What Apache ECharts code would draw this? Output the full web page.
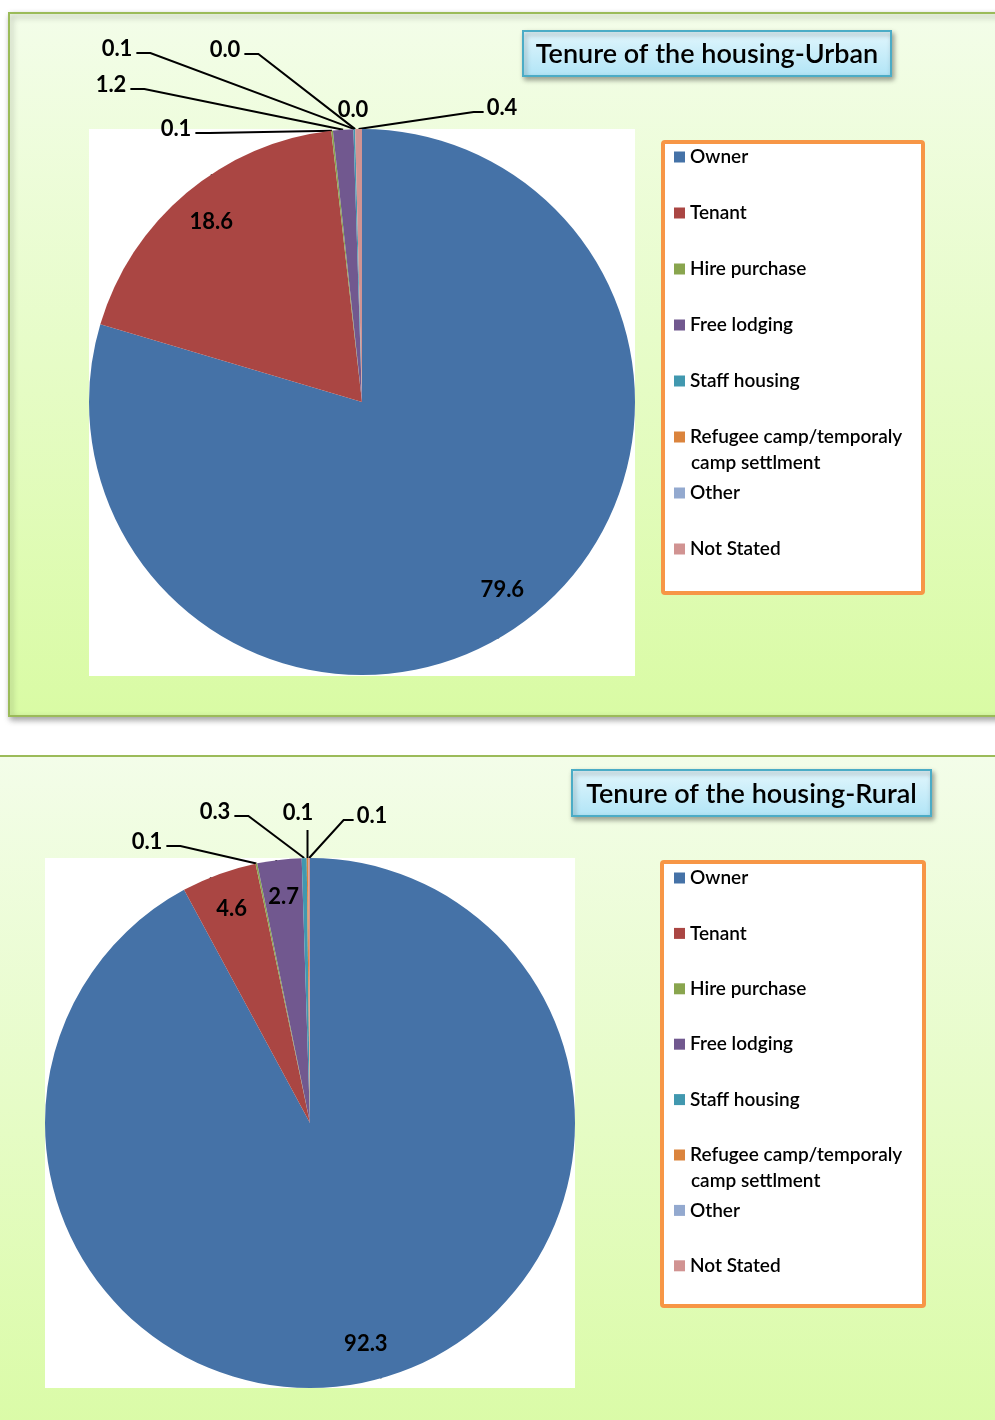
<!DOCTYPE html>
<html>
<head>
<meta charset="utf-8">
<script src="https://cdn.jsdelivr.net/npm/echarts@6/dist/echarts.min.js"></script>
<style>
  html, body { margin: 0; padding: 0; background: #fff; }
  #main { width: 995px; height: 1420px; }
</style>
</head>
<body>
<div id="main"></div>
<script>
// categories and values
var categories = ['Owner', 'Tenant', 'Hire purchase', 'Free lodging', 'Staff housing',
  'Refugee camp/temporaly camp settlment', 'Other', 'Not Stated'];
var urbanValues = [79.6, 18.6, 0.1, 1.2, 0.1, 0.0, 0.0, 0.4];
var ruralValues = [92.3, 4.6, 0.1, 2.7, 0.3, 0.1, 0.0, 0.1];
var colors = ['#4572a7', '#aa4643', '#89a54e', '#71588f', '#4198af', '#db843d', '#93a9cf', '#d19392'];

var FONT = 'Lato, "Open Sans", sans-serif';

// where the small labels sit (text centre) and which side the leader line leaves from
var urbanLabelPos = {2: [176, 129, 'r'], 3: [111, 85, 'r'], 4: [117, 49, 'r'], 5: [225, 50, 'r'], 6: [353, 110, 'n'], 7: [502, 108, 'l']};
var ruralLabelPos = {2: [147, 842, 'r'], 4: [215, 812, 'r'], 5: [298, 813, 'b'], 7: [372, 816, 'l']};

var urbanPie = {center: [362, 402], r: 273};
var ruralPie = {center: [310, 1123], r: 265};

function makeData(values, hideZero) {
  return values.map(function (v, i) {
    var item = {name: categories[i], value: v};
    if (v >= 2) {
      item.label = {position: 'inside'};
    }
    if (hideZero && v === 0 && i === 6) {
      item.label = {show: false};
      item.labelLine = {show: false};
    }
    return item;
  });
}

function makeLabelLayout(values, pie, labelPos) {
  var total = values.reduce(function (a, b) { return a + b; }, 0);
  return function (params) {
    var i = params.dataIndex;
    var before = 0;
    for (var k = 0; k < i; k++) before += values[k];
    var ang = (before + values[i] / 2) / total * Math.PI * 2;
    var sx = Math.sin(ang), sy = -Math.cos(ang);
    var cx = pie.center[0], cy = pie.center[1];
    var p = labelPos[i];
    if (!p) {
      return {
        x: cx + sx * pie.r * 0.86,
        y: cy + sy * pie.r * 0.86,
        align: 'center',
        verticalAlign: 'middle'
      };
    }
    var anchor = [cx + sx * pie.r, cy + sy * pie.r];
    var hw = params.labelRect.width / 2;
    var pts;
    if (p[2] === 'r') {
      var e = [p[0] + hw + 4, p[1] + 4];
      pts = [anchor, [e[0] + 14, e[1]], e];
    } else if (p[2] === 'l') {
      var e2 = [p[0] - hw - 3, p[1] + 4];
      pts = [anchor, [e2[0] - 10, e2[1]], e2];
    } else if (p[2] === 'b') {
      pts = [anchor, [anchor[0], p[1] + 17], [anchor[0], p[1] + 17]];
    } else {
      pts = [anchor, anchor, anchor];
    }
    return {
      x: p[0],
      y: p[1],
      align: 'center',
      verticalAlign: 'middle',
      labelLinePoints: pts
    };
  };
}

function pieSeries(values, pie, labelPos, hideZero) {
  return {
    type: 'pie',
    center: pie.center,
    radius: pie.r,
    startAngle: 90,
    clockwise: true,
    animation: false,
    silent: true,
    avoidLabelOverlap: false,
    color: colors,
    data: makeData(values, hideZero),
    label: {
      show: true,
      position: 'outside',
      formatter: function (p) { return p.value.toFixed(1); },
      color: '#000',
      fontSize: 22,
      fontWeight: 'bold',
      fontFamily: FONT
    },
    labelLine: {show: true, length: 10, length2: 10, lineStyle: {color: '#000', width: 2}},
    labelLayout: makeLabelLayout(values, pie, labelPos)
  };
}

function legendFor(top, gap) {
  return {
    orient: 'vertical',
    left: 674,
    top: top,
    padding: 0,
    icon: 'rect',
    itemWidth: 11,
    itemHeight: 11,
    itemGap: gap,
    selectedMode: false,
    data: categories,
    formatter: function (name) {
      return name.indexOf('Refugee') === 0 ? 'Refugee camp/temporaly' : name;
    },
    textStyle: {fontSize: 19, fontWeight: 600, lineHeight: 20, color: '#000', fontFamily: FONT}
  };
}

var panelFill = {
  type: 'linear', x: 0, y: 0, x2: 0, y2: 1,
  colorStops: [{offset: 0, color: '#f3fde9'}, {offset: 1, color: '#d9fba4'}]
};
var titleFill = {
  type: 'linear', x: 0, y: 0, x2: 0, y2: 1,
  colorStops: [{offset: 0, color: '#e3f7fd'}, {offset: 1, color: '#b0e4f6'}]
};

function titleBox(x, y, w, h, text) {
  return [
    {type: 'rect', shape: {x: x, y: y, width: w, height: h},
      style: {fill: titleFill, stroke: '#4bacc6', lineWidth: 2, shadowBlur: 5, shadowOffsetX: 2, shadowOffsetY: 3, shadowColor: 'rgba(0,0,0,0.35)'}, z: 1},
    {type: 'text', style: {text: text, x: x + w / 2, y: y + h / 2 + 1, textAlign: 'center', textVerticalAlign: 'middle',
      font: '600 27px ' + FONT, fill: '#000'}, z: 2}
  ];
}

function legendBox(x, y, w, h) {
  return {type: 'rect', shape: {x: x, y: y, width: w, height: h, r: 2},
    style: {fill: '#fff', stroke: '#f79646', lineWidth: 4}, z: 1};
}

var graphics = [
  // panels
  {type: 'rect', shape: {x: 9, y: 13, width: 1000, height: 703},
    style: {fill: panelFill, stroke: '#9bbb59', lineWidth: 2, shadowBlur: 6, shadowOffsetX: 2, shadowOffsetY: 3, shadowColor: 'rgba(0,0,0,0.35)'}, z: 0},
  {type: 'rect', shape: {x: -2, y: 756, width: 1010, height: 700},
    style: {fill: panelFill, stroke: '#9bbb59', lineWidth: 2}, z: 0},
  // plot areas
  {type: 'rect', shape: {x: 89, y: 129, width: 546, height: 547}, style: {fill: '#fff'}, z: 1},
  {type: 'rect', shape: {x: 45, y: 858, width: 530, height: 530}, style: {fill: '#fff'}, z: 1},
  legendBox(663, 142, 260, 451),
  legendBox(662, 862, 262, 444),
  {type: 'text', style: {text: 'camp settlment', x: 691, y: 463, textVerticalAlign: 'middle', font: '600 19px ' + FONT, fill: '#000'}, z: 5},
  {type: 'text', style: {text: 'camp settlment', x: 691, y: 1181, textVerticalAlign: 'middle', font: '600 19px ' + FONT, fill: '#000'}, z: 5}
].concat(titleBox(523, 31, 368, 45, 'Tenure of the housing-Urban'))
 .concat(titleBox(572, 770, 359, 46, 'Tenure of the housing-Rural'));

var chart = echarts.init(document.getElementById('main'));
var option = {
  animation: false,
  backgroundColor: '#fff',
  graphic: {elements: graphics},
  legend: [legendFor(147, 36), legendFor(868, 35.4)],
  series: [
    pieSeries(urbanValues, urbanPie, urbanLabelPos, false),
    pieSeries(ruralValues, ruralPie, ruralLabelPos, true)
  ]
};
chart.setOption(option);
</script>
</body>
</html>
